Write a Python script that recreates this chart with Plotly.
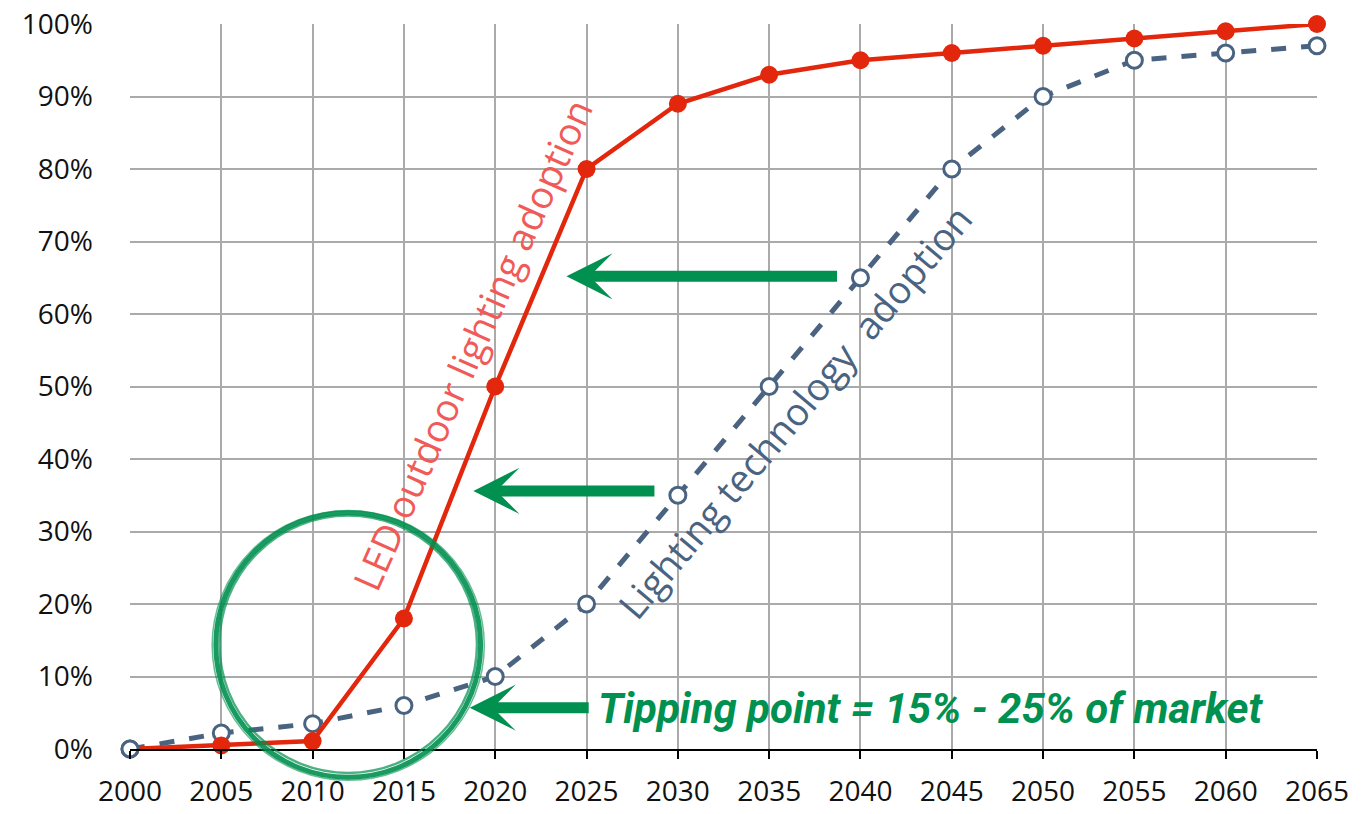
import plotly.graph_objects as go

years = [2000, 2005, 2010, 2015, 2020, 2025, 2030, 2035, 2040, 2045, 2050, 2055, 2060, 2065]
led_adoption = [0, 0.5, 1.1, 18, 50, 80, 89, 93, 95, 96, 97, 98, 99, 100]
lighting_adoption = [0, 2.2, 3.5, 6, 10, 20, 35, 50, 65, 80, 90, 95, 96, 97]
y_ticks = [0, 10, 20, 30, 40, 50, 60, 70, 80, 90, 100]
y_tick_labels = ["0%", "10%", "20%", "30%", "40%", "50%", "60%", "70%", "80%", "90%", "100%"]

led_label = "LED outdoor lighting adoption"
tech_label = "Lighting technology  adoption"
tipping_label = "Tipping point = 15% - 25% of market"

# arrow annotations: (tip_year, tip_pct, tail_year)
arrows = [(2023.9, 65.2, 2038.8), (2018.8, 35.6, 2028.8), (2018.6, 5.7, 2025.2)]

RED = "#e2270c"
RED_TXT = "#f05a58"
BLUE = "#4a6380"
GREEN = "#00904f"

fig = go.Figure()

fig.add_trace(go.Scatter(
    x=years, y=lighting_adoption, mode="lines+markers",
    line=dict(color=BLUE, width=5, dash="dash"),
    marker=dict(size=16, color="white", line=dict(color=BLUE, width=3)),
    cliponaxis=False, showlegend=False))

fig.add_trace(go.Scatter(
    x=years, y=led_adoption, mode="lines+markers",
    line=dict(color=RED, width=4.5),
    marker=dict(size=18, color=RED),
    cliponaxis=False, showlegend=False))

# blue marker at 2000 sits above the red one in the reference
fig.add_trace(go.Scatter(
    x=years[:1], y=lighting_adoption[:1], mode="markers",
    marker=dict(size=16, color="white", line=dict(color=BLUE, width=3)),
    cliponaxis=False, showlegend=False))

annotations = []
for tx, ty, ax in arrows:
    annotations.append(dict(
        x=tx, y=ty, ax=ax, ay=ty, xref="x", yref="y", axref="x", ayref="y",
        showarrow=True, arrowhead=3, arrowsize=0.7, arrowwidth=11,
        arrowcolor=GREEN, standoff=0, text=""))

annotations.append(dict(
    x=2018.75, y=55.8, xref="x", yref="y", text=led_label, showarrow=False,
    textangle=-66, font=dict(family="Open Sans", size=38, color=RED_TXT)))
annotations.append(dict(
    x=2036.4, y=46.6, xref="x", yref="y", text=tech_label, showarrow=False,
    textangle=-50, font=dict(family="Open Sans", size=38, color=BLUE)))
annotations.append(dict(
    x=2025.5, y=5.6, xref="x", yref="y", text="<b><i>" + tipping_label + "</i></b>",
    showarrow=False, xanchor="left", yanchor="middle",
    font=dict(family="Roboto", size=42, color=GREEN)))

def px(yr):
    return (yr - 2000) / 65.0

def py(p):
    return p / 100.0

shapes = []
# hand-drawn style circle
circle = [(2004.7, 2019.2, -3.9, 32.6, 5, 0.9),
          (2004.9, 2019.0, -3.3, 32.2, 2.5, 0.7),
          (2004.5, 2019.4, -4.3, 32.9, 1.5, 0.6)]
for x0, x1, y0, y1, w, op in circle:
    shapes.append(dict(type="circle", xref="paper", yref="paper",
                       x0=px(x0), x1=px(x1), y0=py(y0), y1=py(y1),
                       line=dict(color=GREEN, width=w), opacity=op, layer="above"))

fig.update_layout(
    width=1363, height=814,
    margin=dict(l=130, r=46, t=24, b=65),
    paper_bgcolor="white", plot_bgcolor="white",
    annotations=annotations, shapes=shapes,
    xaxis=dict(range=[2000, 2065], tickmode="array", tickvals=years,
               ticktext=[str(y) for y in years], automargin=False,
               showgrid=True, gridcolor="#aaaaaa", gridwidth=2,
               showline=True, linecolor="black", linewidth=2,
               ticks="outside", ticklen=8, tickwidth=2, tickcolor="black",
               ticklabelstandoff=8,
               tickfont=dict(family="Open Sans", size=28, color="#111111"),
               zeroline=False, fixedrange=True),
    yaxis=dict(range=[0, 100], tickmode="array", tickvals=y_ticks, ticktext=y_tick_labels,
               showgrid=True, gridcolor="#aaaaaa", gridwidth=2, automargin=False,
               showline=False, zeroline=False, ticks="",
               ticklabelstandoff=36,
               tickfont=dict(family="Open Sans", size=28, color="#111111"),
               fixedrange=True),
)

fig.write_html("out.html")
